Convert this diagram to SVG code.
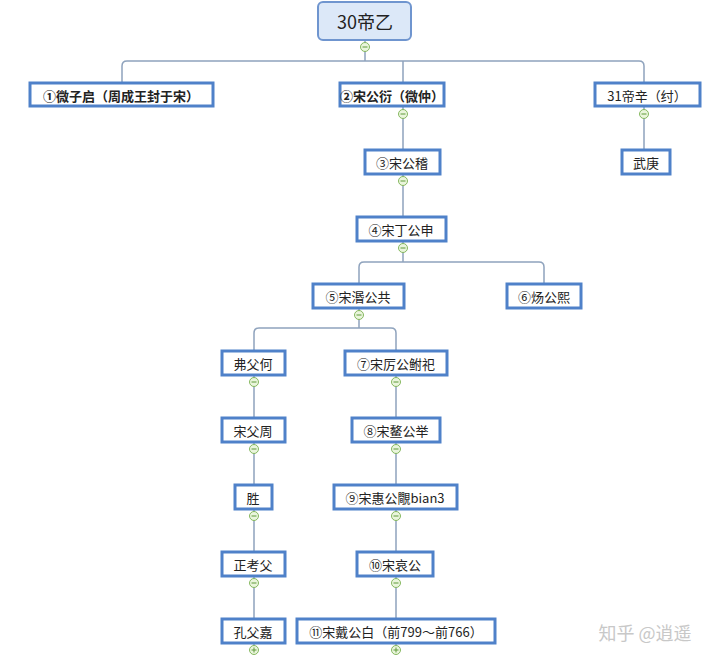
<svg xmlns="http://www.w3.org/2000/svg" width="720" height="660" viewBox="0 0 720 660">
<style>
.n{fill:#fff;stroke:#4f81c9;stroke-width:3}
.t{font-family:"Noto Sans CJK SC","Liberation Sans",sans-serif;font-size:13px;fill:#222;text-anchor:middle;dominant-baseline:central}
.b{font-weight:bold}
.c{fill:none;stroke:#8fa3bd;stroke-width:1.5}
.k{fill:#eaf5dc;stroke:#86b85f;stroke-width:1}
.m{stroke:#5f9a3a;stroke-width:1}
</style>
<rect width="720" height="660" fill="#fff"/>
<g id="connectors">
<path class="c" d="M365 40V61M122 83V66Q122 61 127 61H639Q644 61 644 66V83M403 61V83M403 106V150M644 106V150M403 174V217M403 241V262M359 284V267Q359 262 364 262H539Q544 262 544 267V284M359 308V328M254 351V333Q254 328 259 328H391Q396 328 396 333V351M254 375V418M396 375V418M254 442V485M396 442V485M254 509V552M396 509V552M254 576V619M396 576V619M254 643V650M396 643V650"/>
</g>
<g id="root"><rect x="318" y="2" width="93" height="38" rx="5" fill="#dce8f8" stroke="#6f95cf" stroke-width="2"/><text class="t" x="365" y="21" style="font-size:18px">30帝乙</text></g>
<g id="n1"><rect class="n" x="30" y="83" width="183" height="23"/><text class="t b" x="121" y="95">①微子启（周成王封于宋）</text></g>
<g id="n2"><rect class="n" x="340" y="83" width="104" height="23"/><text class="t b" x="392" y="95">②宋公衍（微仲）</text></g>
<g id="n31"><rect class="n" x="595" y="83" width="105" height="23"/><text class="t" x="647" y="95">31帝辛（纣）</text></g>
<g id="n3"><rect class="n" x="365" y="150" width="75" height="24"/><text class="t" x="402" y="162">③宋公稽</text></g>
<g id="wugeng"><rect class="n" x="622" y="150" width="48" height="24"/><text class="t" x="646" y="162">武庚</text></g>
<g id="n4"><rect class="n" x="357" y="217" width="89" height="24"/><text class="t" x="401" y="229">④宋丁公申</text></g>
<g id="n5"><rect class="n" x="313" y="284" width="91" height="24"/><text class="t" x="358" y="296">⑤宋湣公共</text></g>
<g id="n6"><rect class="n" x="507" y="284" width="74" height="24"/><text class="t" x="544" y="296">⑥炀公熙</text></g>
<g id="fufuhe"><rect class="n" x="222" y="351" width="63" height="24"/><text class="t" x="253" y="363">弗父何</text></g>
<g id="n7"><rect class="n" x="345" y="351" width="102" height="24"/><text class="t" x="396" y="363">⑦宋厉公鲋祀</text></g>
<g id="songfuzhou"><rect class="n" x="222" y="418" width="63" height="24"/><text class="t" x="253" y="430">宋父周</text></g>
<g id="n8"><rect class="n" x="352" y="418" width="88" height="24"/><text class="t" x="396" y="430">⑧宋鳌公举</text></g>
<g id="sheng"><rect class="n" x="235" y="485" width="37" height="24"/><text class="t" x="253" y="497">胜</text></g>
<g id="n9"><rect class="n" x="334" y="485" width="123" height="24"/><text class="t" x="395" y="497">⑨宋惠公覸bian3</text></g>
<g id="zhengkaofu"><rect class="n" x="222" y="552" width="63" height="24"/><text class="t" x="253" y="564">正考父</text></g>
<g id="n10"><rect class="n" x="357" y="552" width="76" height="24"/><text class="t" x="395" y="564">⑩宋哀公</text></g>
<g id="kongfujia"><rect class="n" x="222" y="619" width="63" height="24"/><text class="t" x="253" y="631">孔父嘉</text></g>
<g id="n11"><rect class="n" x="297" y="619" width="198" height="24"/><text class="t" x="396" y="631">⑪宋戴公白（前799～前766）</text></g>
<g id="toggles">
<circle class="k" cx="365" cy="47" r="4.5"/><path class="m" d="M362.5 47h5"/>
<circle class="k" cx="403" cy="114" r="4.5"/><path class="m" d="M400.5 114h5"/>
<circle class="k" cx="644" cy="114" r="4.5"/><path class="m" d="M641.5 114h5"/>
<circle class="k" cx="403" cy="181" r="4.5"/><path class="m" d="M400.5 181h5"/>
<circle class="k" cx="403" cy="248" r="4.5"/><path class="m" d="M400.5 248h5"/>
<circle class="k" cx="359" cy="315" r="4.5"/><path class="m" d="M356.5 315h5"/>
<circle class="k" cx="254" cy="382" r="4.5"/><path class="m" d="M251.5 382h5"/>
<circle class="k" cx="396" cy="382" r="4.5"/><path class="m" d="M393.5 382h5"/>
<circle class="k" cx="254" cy="449" r="4.5"/><path class="m" d="M251.5 449h5"/>
<circle class="k" cx="396" cy="449" r="4.5"/><path class="m" d="M393.5 449h5"/>
<circle class="k" cx="254" cy="516" r="4.5"/><path class="m" d="M251.5 516h5"/>
<circle class="k" cx="396" cy="516" r="4.5"/><path class="m" d="M393.5 516h5"/>
<circle class="k" cx="254" cy="583" r="4.5"/><path class="m" d="M251.5 583h5"/>
<circle class="k" cx="396" cy="583" r="4.5"/><path class="m" d="M393.5 583h5"/>
<circle class="k" cx="254" cy="650" r="4.5"/><path class="m" d="M251.5 650h5M254 647.5v5"/>
<circle class="k" cx="396" cy="650" r="4.5"/><path class="m" d="M393.5 650h5M396 647.5v5"/>
</g>
<text x="645" y="632" style="font-family:'Noto Sans CJK SC',sans-serif;font-size:18px;fill:#c8c8c8;text-anchor:middle;dominant-baseline:central">知乎 @逍遥</text>
</svg>
